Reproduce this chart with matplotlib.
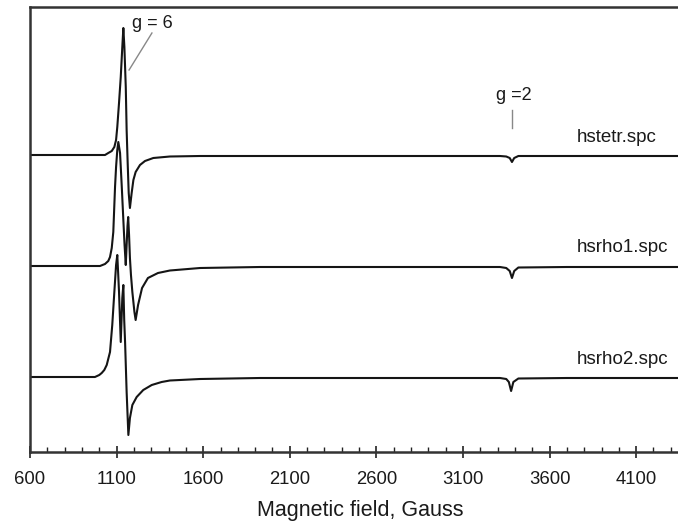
import matplotlib
matplotlib.use("Agg")
import matplotlib.pyplot as plt
from matplotlib.ticker import MultipleLocator

plt.rcParams['font.family'] = ['Liberation Sans', 'DejaVu Sans']

# ---- data (field in Gauss, intensity in arbitrary units relative to baseline) ----
tetr_field = [600, 1004, 1033, 1052, 1072, 1087, 1097, 1104, 1114, 1124,
              1133, 1139, 1145, 1153, 1158, 1164, 1170, 1177, 1187, 1197,
              1210, 1235, 1264, 1312, 1408, 1582, 1928, 2600, 3000, 3314,
              3350, 3370, 3383, 3396, 3420, 3700, 4411]
tetr_int = [0, 0, 0, 2, 4, 8, 15, 28, 52, 78,
            108, 127, 108, 68, 25, -8, -38, -53, -38, -25,
            -17, -10, -6, -3, -1.5, -1, -1, -1, -1, -1,
            -1.5, -3, -7, -3, -1, -1, -1]

rho1_field = [600, 1004, 1033, 1052, 1062, 1072, 1081, 1091, 1097, 1104,
              1110, 1120, 1130, 1139, 1146, 1153, 1158, 1163, 1167, 1172,
              1177, 1183, 1191, 1203, 1210, 1224, 1247, 1281, 1339, 1408,
              1582, 1928, 2600, 3000, 3314, 3350, 3370, 3383,
              3396, 3420, 3700, 4411]
rho1_int = [0, 0, 2, 5, 9, 18, 34, 79, 99, 116,
            124, 113, 79, 46, 21, 1, 21, 40, 49, 31,
            8, -9, -26, -46, -54, -39, -22, -12, -7, -4.5,
            -2, -1, -1, -1, -1, -2, -5, -12,
            -5, -1.5, -1, -1]

rho2_field = [600, 964, 975, 1000, 1014, 1029, 1043, 1062, 1075, 1087,
              1097, 1104, 1109, 1114, 1124, 1133, 1139, 1144, 1149, 1158,
              1168, 1177, 1191, 1216, 1254, 1303, 1360, 1408, 1582,
              1928, 2600, 3000, 3314, 3350, 3365, 3378, 3391, 3420,
              3700, 4411]
rho2_int = [0, 0, 0, 2, 4, 7, 12, 25, 52, 85,
            112, 122, 104, 85, 35, 79, 92, 57, 35, -15,
            -58, -41, -28, -20, -13, -8, -5, -3.5, -2,
            -1, -1, -1, -1, -2, -5, -14, -5, -1.5,
            -1, -1]

series_names = ["hstetr.spc", "hsrho1.spc", "hsrho2.spc"]
series_fields = [tetr_field, rho1_field, rho2_field]
series_ints = [tetr_int, rho1_int, rho2_int]
series_offsets = [297, 186, 75]

major_ticks = [600, 1100, 1600, 2100, 2600, 3100, 3600, 4100]

# ---- figure ----
fig = plt.figure(figsize=(6.78, 5.24), dpi=100)
ax = fig.add_axes([30 / 678, 72 / 524, 660 / 678, 445 / 524])

for f, y, off in zip(series_fields, series_ints, series_offsets):
    ax.plot(f, [v + off for v in y], color='#151515', lw=1.5,
            solid_joinstyle='round')

ax.set_xlim(600, 4411)
ax.set_ylim(0, 445)

# labels for traces
for name, off in zip(series_names, series_offsets):
    ax.text(3758, off + 18, name, fontsize=13.5, ha='left', va='center',
            color='#1a1a1a')

# g-value annotations
ax.text(1304, 429, "g = 6", fontsize=13, ha='center', va='center',
        color='#1a1a1a')
ax.plot([1304, 1172], [419, 382], color='#888888', lw=1)
ax.text(3395, 356, "g =2", fontsize=13, ha='center', va='center',
        color='#1a1a1a')
ax.plot([3383, 3383], [324, 342], color='#888888', lw=1)

# axes styling
ax.set_xticks(major_ticks)
ax.xaxis.set_minor_locator(MultipleLocator(100))
ax.set_yticks([])
ax.tick_params(axis='x', which='major', direction='inout', length=8,
               width=1.2, labelsize=13.3, pad=10, color='#222222',
               labelcolor='#1a1a1a')
ax.tick_params(axis='x', which='minor', direction='in', length=3.3,
               width=1.0, color='#222222')
for s in ['top', 'left', 'bottom']:
    ax.spines[s].set_linewidth(1.8)
    ax.spines[s].set_color('#333333')
ax.spines['right'].set_visible(False)

ax.set_xlabel("Magnetic field, Gauss", fontsize=15.5, labelpad=8,
              color='#1a1a1a')

fig.savefig("out.png", dpi=100)
